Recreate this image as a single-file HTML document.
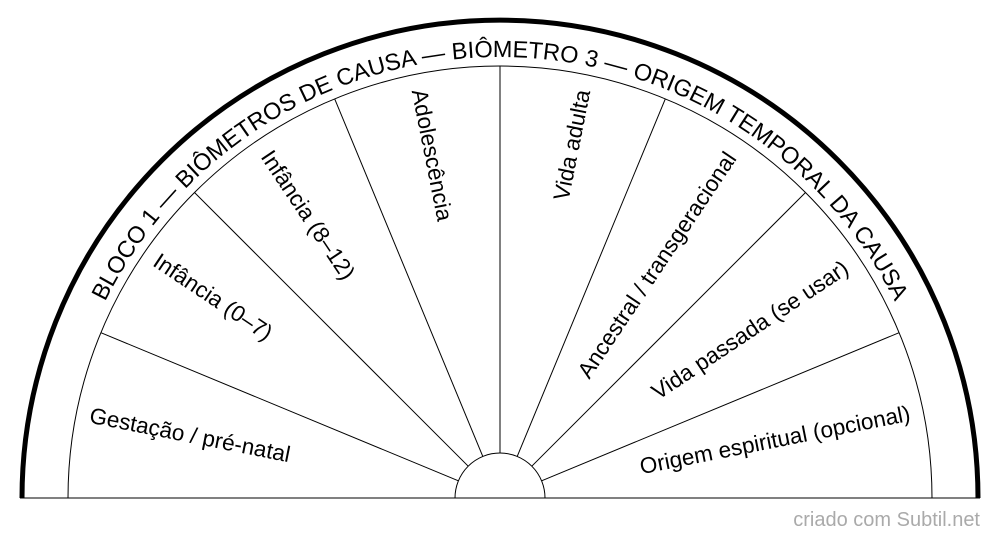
<!DOCTYPE html>
<html><head><meta charset="utf-8"><style>
html,body{margin:0;padding:0;background:#fff;}
svg{display:block;font-family:"Liberation Sans",Arial,sans-serif;}
</style></head><body>
<svg width="1000" height="540" viewBox="0 0 1000 540" xmlns="http://www.w3.org/2000/svg">
<defs><path id="tp" d="M 59 498 A 441 441 0 0 1 941 498"/></defs>
<rect width="1000" height="540" fill="#fff"/>
<path d="M 22 498 A 478 478 0 0 1 978 498" fill="none" stroke="#000" stroke-width="5"/>
<line x1="20" y1="498" x2="980" y2="498" stroke="#000" stroke-width="1"/>
<path d="M 68 498 A 432 432 0 0 1 932 498" fill="none" stroke="#000" stroke-width="1"/>
<path d="M 455 498 A 45 45 0 0 1 545 498" fill="none" stroke="#000" stroke-width="1"/>
<g stroke="#000" stroke-width="1">
<line x1="541.6" y1="480.8" x2="899.1" y2="332.7"/>
<line x1="531.8" y1="466.2" x2="805.5" y2="192.5"/>
<line x1="517.2" y1="456.4" x2="665.3" y2="98.9"/>
<line x1="500" y1="453" x2="500" y2="66"/>
<line x1="482.8" y1="456.4" x2="334.7" y2="98.9"/>
<line x1="468.2" y1="466.2" x2="194.5" y2="192.5"/>
<line x1="458.4" y1="480.8" x2="100.9" y2="332.7"/>
</g>
<text font-size="23.5" fill="#000"><textPath href="#tp" startOffset="50%" text-anchor="middle">BLOCO 1 — BIÔMETROS DE CAUSA — BIÔMETRO 3 — ORIGEM TEMPORAL DA CAUSA</textPath></text>
<g font-size="22.5" fill="#000" text-anchor="middle" dominant-baseline="central">
<text transform="translate(190,435) rotate(11.25)">Gestação / pré-natal</text>
<text transform="translate(213,297) rotate(33.75)">Infância (0–7)</text>
<text transform="translate(308,215) rotate(56.25)">Infância (8–12)</text>
<text transform="translate(432,155) rotate(78.75)">Adolescência</text>
<text transform="translate(572,145) rotate(-78.75)">Vida adulta</text>
<text transform="translate(657,265) rotate(-56.25)">Ancestral / transgeracional</text>
<text transform="translate(750,330) rotate(-33.75)">Vida passada (se usar)</text>
<text transform="translate(775,440) rotate(-11.25)">Origem espiritual (opcional)</text>
</g>
<text x="980" y="526" font-size="20" fill="#aaa" text-anchor="end">criado com Subtil.net</text>
</svg>
</body></html>
